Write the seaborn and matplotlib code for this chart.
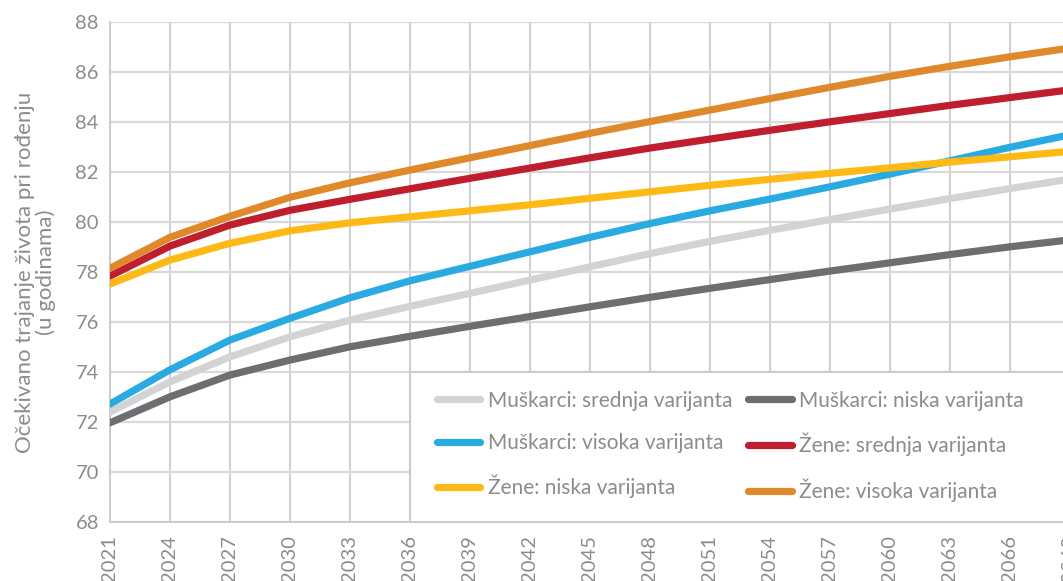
import pandas as pd
import seaborn as sns
import matplotlib
matplotlib.use("Agg")
import matplotlib.pyplot as plt
from matplotlib.lines import Line2D
from matplotlib.patches import Rectangle

years = list(range(2021, 2070, 3))

muskarci_srednja = [72.41, 73.62, 74.62, 75.42, 76.09, 76.64, 77.16, 77.69, 78.22,
                    78.75, 79.24, 79.68, 80.11, 80.53, 80.95, 81.35, 81.73]
muskarci_niska = [71.98, 73.02, 73.89, 74.49, 75.02, 75.44, 75.84, 76.23, 76.62,
                  77.00, 77.36, 77.71, 78.05, 78.38, 78.71, 79.02, 79.30]
muskarci_visoka = [72.73, 74.10, 75.29, 76.16, 76.98, 77.66, 78.24, 78.82, 79.40,
                   79.95, 80.46, 80.93, 81.42, 81.93, 82.46, 83.00, 83.50]
zene_srednja = [77.85, 79.05, 79.89, 80.48, 80.92, 81.34, 81.76, 82.17, 82.58,
                82.97, 83.33, 83.68, 84.02, 84.35, 84.68, 84.99, 85.30]
zene_niska = [77.53, 78.49, 79.16, 79.66, 79.98, 80.22, 80.46, 80.70, 80.96,
              81.22, 81.48, 81.72, 81.96, 82.18, 82.41, 82.62, 82.84]
zene_visoka = [78.16, 79.40, 80.24, 81.00, 81.58, 82.09, 82.58, 83.07, 83.56,
               84.03, 84.49, 84.95, 85.40, 85.84, 86.24, 86.62, 86.97]

series = {
    "Muškarci: srednja varijanta": muskarci_srednja,
    "Muškarci: niska varijanta": muskarci_niska,
    "Muškarci: visoka varijanta": muskarci_visoka,
    "Žene: srednja varijanta": zene_srednja,
    "Žene: niska varijanta": zene_niska,
    "Žene: visoka varijanta": zene_visoka,
}
colors = ["#D1D3D4", "#6D6E71", "#29ABE2", "#BE1E2D", "#FDBA16", "#E0892A"]

data = pd.concat([pd.DataFrame({"Godina": years, "Vrijednost": v, "Serija": k})
                  for k, v in series.items()], ignore_index=True)

sns.set_theme(style="white")
plt.rcParams['font.family'] = ['Lato', 'DejaVu Sans']
txt = "#8C8C8C"

fig = plt.figure(figsize=(10.63, 5.81), dpi=100)
ax = fig.add_axes([110 / 1063, (581 - 522.3) / 581, 960 / 1063, 500 / 581])

names = list(series.keys())
palette = dict(zip(names, colors))
sns.lineplot(data=data, x="Godina", y="Vrijednost", hue="Serija", hue_order=names,
             palette=palette, linewidth=5.2, legend=False, ax=ax, zorder=3)

ax.set_xlim(2021, 2069)
ax.set_ylim(68, 88)
ax.set_xticks(years)
ax.set_xticklabels([str(y) for y in years], rotation=90)
ax.set_yticks(range(68, 89, 2))
ax.tick_params(axis="both", length=0, labelsize=14.5, labelcolor=txt)
ax.tick_params(axis="y", pad=8)
ax.tick_params(axis="x", pad=9)
ax.grid(axis="y", color="#D9D9D9", linewidth=1.6)
ax.grid(axis="x", color="#CACACA", linewidth=1.3)
ax.set_axisbelow(True)
for s in ["top", "right"]:
    ax.spines[s].set_visible(False)
for s in ["left", "bottom"]:
    ax.spines[s].set_color("#C8C8C8")
    ax.spines[s].set_linewidth(1.3)

ax.set_xlabel("")
ax.set_ylabel("Očekivano trajanje života pri rođenju\n(u godinama)",
              fontsize=16, color=txt, labelpad=14, linespacing=1.05)

# white box behind the legend
ax.add_patch(Rectangle((0.3125, 0), 0.75, 0.30, transform=ax.transAxes,
                       facecolor="white", edgecolor="#CCCCCC", linewidth=1.5,
                       zorder=5, clip_on=False))

order = [0, 2, 4, 1, 3, 5]
handles = [Line2D([], [], color=colors[i], linewidth=5.2) for i in order]
labels = [names[i] for i in order]
leg = ax.legend(handles, labels, ncol=2, loc="upper left",
                bbox_to_anchor=(0.3295, 0.284), frameon=False, borderpad=0,
                handlelength=2.1, handletextpad=0.35, columnspacing=0.75,
                labelspacing=1.06, fontsize=15, labelcolor=txt)
leg.set_zorder(6)

plt.savefig("out.png", dpi=100)
